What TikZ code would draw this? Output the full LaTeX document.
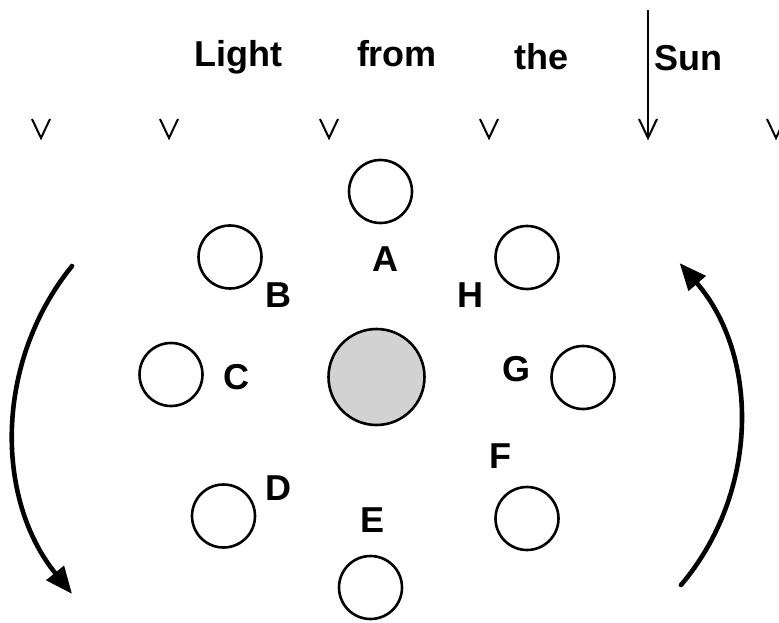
\documentclass[tikz,border=0pt]{standalone}
\usepackage{fontspec}
\setmainfont{Liberation Sans}
\usetikzlibrary{arrows.meta}
\begin{document}
\begin{tikzpicture}[x=1pt,y=1pt,
  moon/.style={circle,draw,line width=2.6pt,minimum size=63pt,inner sep=0pt},
  earth/.style={circle,draw,line width=2.6pt,fill={rgb,255:red,210;green,210;blue,210},minimum size=96pt,inner sep=0pt},
  lbl/.style={font=\bfseries\fontsize{36}{40}\selectfont,inner sep=0pt},
  ttl/.style={font=\bfseries\fontsize{36}{40}\selectfont,inner sep=0pt,anchor=base},
  vmark/.style={line width=2pt},
  orbit/.style={line width=4.6pt,line cap=round,-{Triangle[length=27pt 0 0,width=22pt 0 0]}}]
\useasboundingbox (0,0) rectangle (779,622);
% title
\node[ttl] (light) at (238.5,555.3) {Light};
\node[ttl] (from) at (397,555.3) {from};
\node[ttl] (the) at (541.5,552) {the};
\node[ttl] (sun) at (688.5,551.5) {Sun};
% sun ray
\coordinate (raytop) at (648,612);
\coordinate (v5) at (648,484);
\draw[line width=2pt] (raytop) -- (v5);
% v marks
\foreach \n/\x in {1/41,2/169,3/329,4/489,5/648,6/776}{
  \coordinate (v\n) at (\x,484);
  \draw[vmark] ([xshift=-9pt,yshift=19pt]v\n) -- (v\n) -- ([xshift=9pt,yshift=19pt]v\n);
}
% earth
\node[earth] (earth) at (376.5,245) {};
% moons
\node[moon] (mA) at (380.5,430.5) {};
\node[moon] (mB) at (230,365) {};
\node[moon] (mH) at (527,364.5) {};
\node[moon] (mC) at (171,247.5) {};
\node[moon] (mG) at (583,244.5) {};
\node[moon] (mD) at (223.5,106) {};
\node[moon] (mF) at (527,103.5) {};
\node[moon] (mE) at (370.5,34.5) {};
% labels
\node[lbl] (lA) at (385.5,363) {A};
\node[lbl] (lB) at (278,327) {B};
\node[lbl] (lH) at (470,327) {H};
\node[lbl] (lC) at (236.5,244.5) {C};
\node[lbl] (lG) at (516,253) {G};
\node[lbl] (lD) at (278,133.5) {D};
\node[lbl] (lE) at (373,102) {E};
\node[lbl] (lF) at (500,166) {F};
% orbit arrows
\coordinate (ls) at (72,356);
\coordinate (rs) at (681,37);
\draw[orbit] (ls) arc[start angle=141,end angle=219,radius=260.5];
\draw[orbit] (rs) arc[start angle=-40.3,end angle=40.8,radius=247.6];
\end{tikzpicture}
\end{document}
